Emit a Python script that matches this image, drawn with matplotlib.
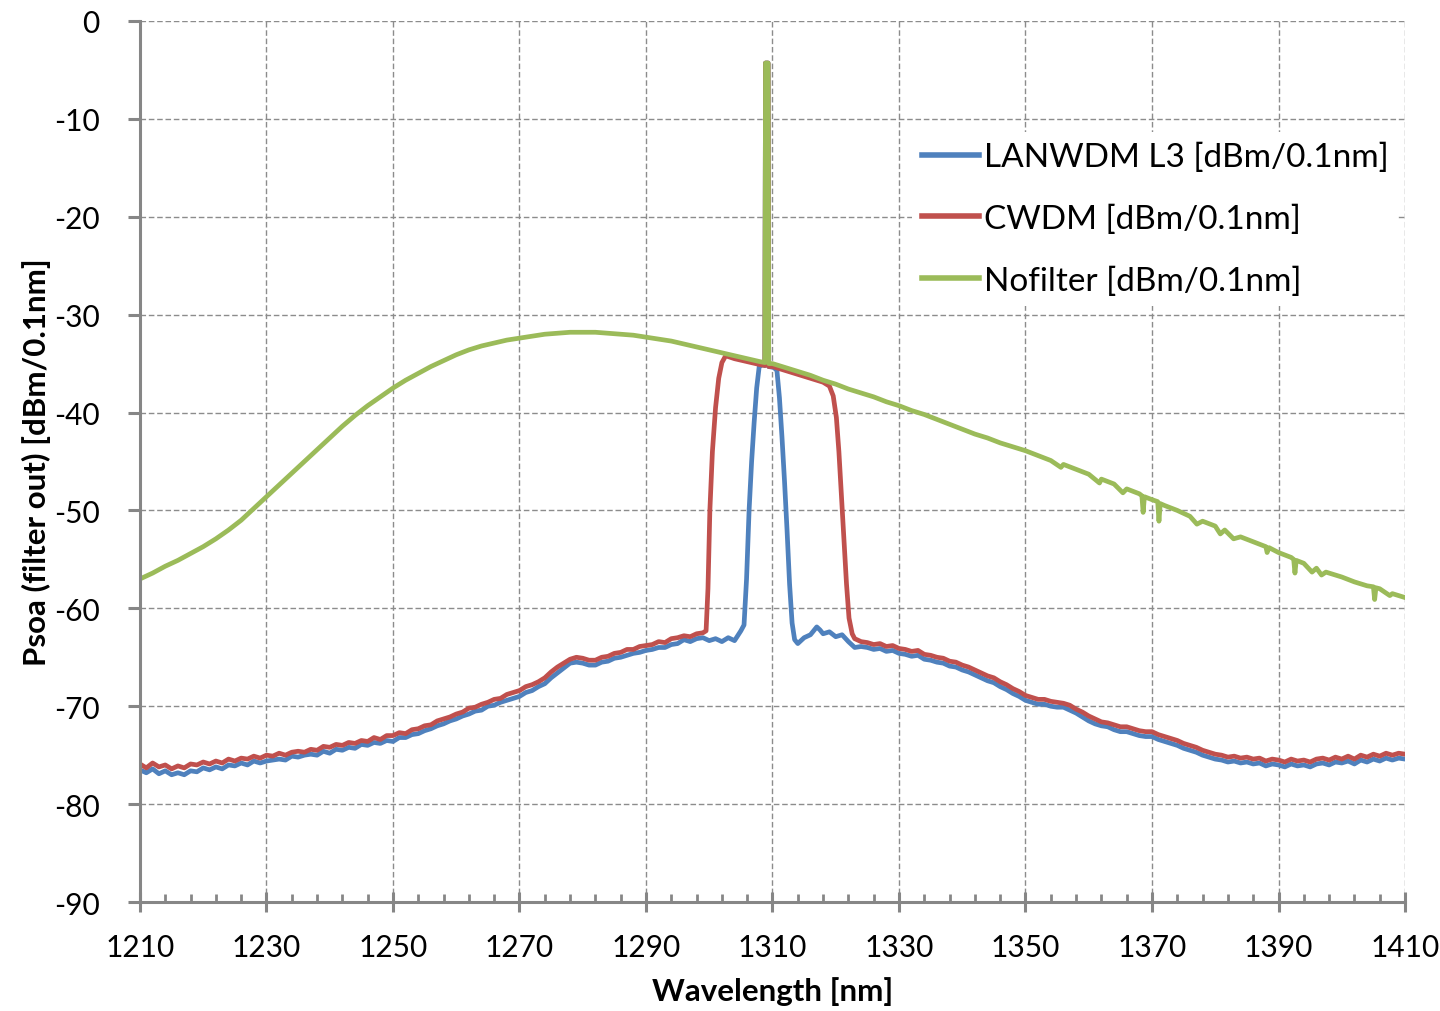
import numpy as np
import matplotlib.pyplot as plt

plt.rcParams['font.family'] = ['Lato', 'DejaVu Sans']
plt.rcParams['axes.unicode_minus'] = False

# ---- LANWDM L3 (blue) ----
blue_left_x = np.arange(1210, 1306)   # 1210..1305 step 1 nm
blue_left_y = [-76.5, -76.8, -76.4, -76.9, -76.6, -77.0, -76.8, -77.0, -76.6, -76.7,
               -76.3, -76.5, -76.2, -76.4, -76.0, -76.1, -75.8, -76.0, -75.6, -75.8,
               -75.6, -75.5, -75.4, -75.5, -75.1, -75.2, -75.0, -74.9, -75.0, -74.6,
               -74.8, -74.4, -74.5, -74.2, -74.3, -73.9, -74.0, -73.7, -73.8, -73.5,
               -73.6, -73.2, -73.2, -72.9, -72.8, -72.5, -72.3, -72.0, -71.8, -71.5,
               -71.3, -71.0, -70.8, -70.5, -70.4, -70.0, -69.9, -69.6, -69.4, -69.2,
               -69.0, -68.6, -68.4, -68.0, -67.7, -67.1, -66.6, -66.1, -65.6, -65.5,
               -65.6, -65.8, -65.8, -65.5, -65.4, -65.1, -65.0, -64.8, -64.6, -64.5,
               -64.3, -64.2, -64.0, -64.0, -63.7, -63.6, -63.2, -63.4, -63.1, -63.0,
               -63.3, -63.1, -63.4, -63.0, -63.3, -62.3]
blue_mid_x = [1305.5, 1305.9, 1306.3, 1306.7, 1307.1, 1307.5, 1307.9, 1308.5, 1308.8,
              1308.9, 1309.3, 1309.4, 1310.2, 1310.7, 1311.1, 1311.5, 1311.9, 1312.3,
              1312.7, 1313.1, 1313.5, 1314, 1315, 1316, 1317, 1317.5, 1318, 1319, 1320,
              1321, 1322, 1323]
blue_mid_y = [-61.7, -57.0, -50.0, -45.0, -41.0, -37.5, -35.3, -35.1, -35.2,
              -4.3, -4.3, -35.3, -35.4, -35.7, -38.5, -42.5, -47.0, -52.0,
              -57.5, -61.5, -63.2, -63.6, -63.0, -62.7, -61.9, -62.2, -62.6, -62.4, -62.9,
              -62.7, -63.4, -64.0]
blue_right_x = np.arange(1324, 1411)  # 1324..1410
blue_right_y = [-63.9, -64.0, -64.2, -64.1, -64.4, -64.3, -64.6, -64.7, -64.9, -64.8,
                -65.2, -65.3, -65.5, -65.6, -65.9, -66.0, -66.3, -66.5, -66.8, -67.1,
                -67.4, -67.6, -68.0, -68.3, -68.7, -69.0, -69.4, -69.6, -69.8, -69.8,
                -70.0, -70.1, -70.1, -70.4, -70.7, -71.1, -71.5, -71.8, -72.0, -72.1,
                -72.4, -72.6, -72.6, -72.8, -73.0, -73.1, -73.1, -73.4, -73.6, -73.8,
                -74.0, -74.3, -74.5, -74.7, -75.0, -75.2, -75.4, -75.5, -75.7, -75.6,
                -75.8, -75.7, -75.9, -75.8, -76.1, -75.9, -76.0, -76.2, -75.9, -76.1,
                -76.0, -76.2, -75.9, -75.8, -76.0, -75.7, -75.8, -75.6, -75.9, -75.5,
                -75.7, -75.4, -75.6, -75.3, -75.5, -75.3, -75.4]

# ---- CWDM (red) ----
red_left_x = np.arange(1210, 1300)    # 1210..1299
red_left_y = [-75.9, -76.3, -75.8, -76.2, -76.0, -76.4, -76.1, -76.3, -75.9, -76.0,
              -75.7, -75.9, -75.6, -75.8, -75.4, -75.6, -75.3, -75.4, -75.1, -75.3,
              -75.0, -75.1, -74.8, -75.0, -74.7, -74.6, -74.7, -74.4, -74.5, -74.1,
              -74.2, -73.9, -74.0, -73.7, -73.8, -73.5, -73.6, -73.2, -73.4, -73.0,
              -73.0, -72.7, -72.8, -72.4, -72.3, -72.0, -71.9, -71.5, -71.3, -71.1,
              -70.8, -70.6, -70.2, -70.1, -69.8, -69.6, -69.3, -69.2, -68.8, -68.6,
              -68.4, -68.0, -67.8, -67.5, -67.1, -66.5, -66.0, -65.6, -65.2, -65.0,
              -65.1, -65.3, -65.3, -65.0, -64.9, -64.6, -64.5, -64.2, -64.2, -63.9,
              -63.8, -63.7, -63.4, -63.5, -63.1, -63.0, -62.8, -62.9, -62.6, -62.5]
red_mid_x = [1299.5, 1299.8, 1300.1, 1300.5, 1301.0, 1301.5, 1302.0, 1302.6, 1304,
             1306, 1308, 1308.8, 1308.9, 1309.3, 1309.4, 1310, 1312, 1314, 1316, 1318,
             1319.0, 1319.6, 1320.1, 1320.5, 1320.9, 1321.3, 1321.7, 1322.1, 1322.6]
red_mid_y = [-62.3, -58.0, -50.0, -44.0, -39.5, -36.5, -34.9, -34.2, -34.5,
             -34.8, -35.1, -35.2, -4.3, -4.3, -35.3, -35.3, -35.7, -36.1, -36.5, -36.9,
             -37.3, -38.3, -40.5, -44.0, -48.5, -53.0, -57.5, -61.0, -62.6]
red_right_x = np.arange(1323, 1411)   # 1323..1410
red_right_y = [-63.1, -63.4, -63.5, -63.7, -63.6, -63.9, -63.8, -64.1, -64.2, -64.4,
               -64.3, -64.7, -64.8, -65.0, -65.1, -65.4, -65.5, -65.8, -66.0, -66.3,
               -66.6, -66.9, -67.1, -67.5, -67.8, -68.2, -68.5, -68.9, -69.1, -69.3,
               -69.3, -69.5, -69.6, -69.7, -69.9, -70.3, -70.6, -71.0, -71.3, -71.6,
               -71.7, -71.9, -72.1, -72.1, -72.3, -72.5, -72.6, -72.6, -72.9, -73.1,
               -73.3, -73.5, -73.8, -74.0, -74.2, -74.5, -74.7, -74.9, -75.0, -75.2,
               -75.1, -75.3, -75.2, -75.4, -75.3, -75.6, -75.4, -75.5, -75.7, -75.4,
               -75.6, -75.5, -75.7, -75.4, -75.3, -75.5, -75.2, -75.4, -75.1, -75.4,
               -75.0, -75.2, -74.9, -75.1, -74.8, -75.0, -74.8, -74.9]

# ---- Nofilter (green) ----
green_x = [1210, 1212, 1214, 1216, 1218, 1220, 1222, 1224, 1226, 1228,
           1230, 1232, 1234, 1236, 1238, 1240, 1242, 1244, 1246, 1248,
           1250, 1252, 1254, 1256, 1258, 1260, 1262, 1264, 1266, 1268,
           1270, 1272, 1274, 1276, 1278, 1280, 1282, 1284, 1286, 1288,
           1290, 1292, 1294, 1296, 1298, 1300, 1302, 1304, 1306, 1308,
           1308.8, 1308.9, 1309.3, 1309.4, 1310, 1312, 1314, 1316, 1318, 1320,
           1322, 1324, 1326, 1328, 1330, 1332, 1334, 1336, 1338, 1340,
           1342, 1344, 1346, 1348, 1350, 1352, 1354, 1355.6, 1356, 1358,
           1360, 1361.7, 1362, 1364, 1365.4, 1366, 1368, 1368.4, 1368.6, 1368.8,
           1370, 1370.9, 1371.1, 1371.3, 1372, 1374, 1376, 1377.1, 1378, 1380,
           1380.8, 1381.5, 1382.9, 1384, 1386, 1388, 1388.2, 1388.5, 1390, 1392,
           1392.4, 1392.6, 1392.8, 1394, 1395.3, 1396, 1396.8, 1397.5, 1400, 1402,
           1404, 1405.0, 1405.2, 1405.4, 1406, 1407.6, 1408, 1410]
green_y = [-57.0, -56.4, -55.7, -55.1, -54.4, -53.7, -52.9, -52.0, -51.0, -49.8,
           -48.6, -47.4, -46.2, -45.0, -43.8, -42.6, -41.4, -40.3, -39.3, -38.4,
           -37.5, -36.7, -36.0, -35.3, -34.7, -34.1, -33.6, -33.2, -32.9, -32.6,
           -32.4, -32.2, -32.0, -31.9, -31.8, -31.8, -31.8, -31.9, -32.0, -32.1,
           -32.3, -32.5, -32.7, -33.0, -33.3, -33.6, -33.9, -34.2, -34.5, -34.8,
           -34.9, -4.3, -4.3, -35.0, -35.0, -35.4, -35.8, -36.2, -36.7, -37.1,
           -37.6, -38.0, -38.4, -38.9, -39.3, -39.8, -40.2, -40.7, -41.2, -41.7,
           -42.2, -42.6, -43.1, -43.5, -43.9, -44.4, -44.9, -45.6, -45.3, -45.8,
           -46.3, -47.2, -46.8, -47.3, -48.2, -47.8, -48.3, -48.5, -50.2, -48.6,
           -48.9, -49.1, -51.1, -49.3, -49.5, -50.0, -50.6, -51.4, -51.1, -51.6,
           -52.4, -52.0, -52.9, -52.7, -53.2, -53.7, -54.3, -53.8, -54.3, -54.8,
           -55.0, -56.4, -55.1, -55.4, -56.3, -55.9, -56.6, -56.3, -56.8, -57.3,
           -57.7, -57.8, -59.1, -57.9, -58.0, -58.7, -58.5, -58.9]

x_ticks = [1210, 1230, 1250, 1270, 1290, 1310, 1330, 1350, 1370, 1390, 1410]

blue_x = np.concatenate([blue_left_x, blue_mid_x, blue_right_x])
blue_y = np.concatenate([blue_left_y, blue_mid_y, blue_right_y])
red_x = np.concatenate([red_left_x, red_mid_x, red_right_x])
red_y = np.concatenate([red_left_y, red_mid_y, red_right_y])

fig = plt.figure(figsize=(14.4, 10.12), dpi=100)
ax = fig.add_axes([0.0972, 0.1077, 0.8785, 0.8706])

ax.plot(blue_x, blue_y, color='#4F81BD', lw=3.4, label='LANWDM L3 [dBm/0.1nm]')
ax.plot(red_x, red_y, color='#C0504D', lw=3.4, label='CWDM [dBm/0.1nm]')
ax.plot(green_x, green_y, color='#9BBB59', lw=3.4, label='Nofilter [dBm/0.1nm]')

ax.set_xlim(1210, 1410)
ax.set_ylim(-90, 0)
ax.set_xticks(x_ticks)
ax.set_xticks(np.arange(1210, 1411, 4), minor=True)
ax.set_yticks(np.arange(-90, 1, 10))

ax.grid(True, which='major', color='#8c8c8c', lw=1.0, ls=(0, (4, 2)))
ax.set_axisbelow(True)

for s in ['top', 'right']:
    ax.spines[s].set_visible(False)
for s in ['left', 'bottom']:
    ax.spines[s].set_color('#868686')
    ax.spines[s].set_linewidth(2.2)

ax.tick_params(axis='x', which='major', direction='inout', length=14, width=2.2,
               color='#868686', labelsize=21.5, pad=15)
ax.tick_params(axis='x', which='minor', direction='in', length=6, width=2,
               color='#868686')
ax.tick_params(axis='y', which='major', direction='out', length=9, width=2.2,
               color='#868686', labelsize=21.5, pad=20)

ax.set_xlabel('Wavelength [nm]', fontsize=22.5, fontweight='bold', labelpad=11)
ax.set_ylabel('Psoa (filter out) [dBm/0.1nm]', fontsize=22.5, fontweight='bold', labelpad=2)

leg = ax.legend(loc='upper right', bbox_to_anchor=(1.008, 0.893), fontsize=24,
                frameon=True, facecolor='white', edgecolor='none', framealpha=1,
                fancybox=False, handlelength=1.7, handletextpad=0.15,
                labelspacing=0.95, borderpad=0.3)
for h in leg.get_lines():
    h.set_linewidth(4.0)

fig.savefig('out.png', dpi=100)
